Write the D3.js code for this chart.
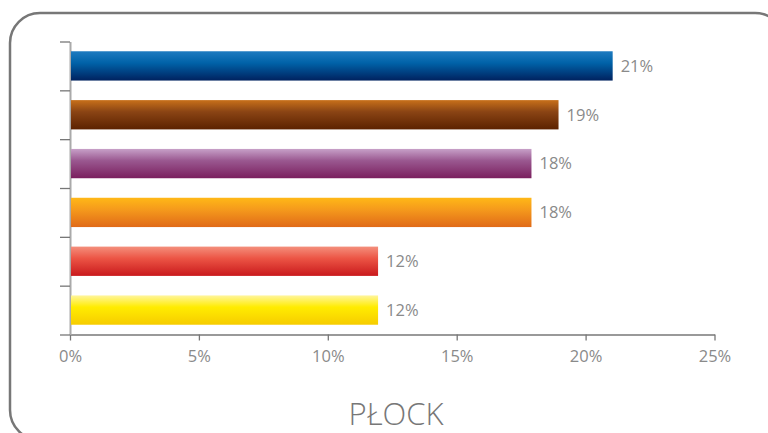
<!DOCTYPE html>
<html><head><meta charset="utf-8">
<script src="https://cdn.jsdelivr.net/npm/d3@7/dist/d3.min.js"></script>
<style>html,body{margin:0;padding:0;background:#fff;}svg{display:block;}</style>
</head><body>
<svg id="c" width="768" height="433"></svg>
<script>
const categories = ["A","B","C","D","E","F"];
const values = [21.05, 18.95, 17.9, 17.9, 11.95, 11.95];
const labels = ["21%","19%","18%","18%","12%","12%"];
const xTicks = [0,5,10,15,20,25];
const title = "PŁOCK";
const gradients = [
  ["#1f7bc0","#0062a8","#00225f"],
  ["#c8701a","#8a4414","#5c2200"],
  ["#c7a0c8","#9a5890","#7a1f5e"],
  ["#ffb817","#f59a1c","#e06a18"],
  ["#f48f7c","#ec5545","#c9191c"],
  ["#fff59c","#ffec00","#f6cc00"]
];

const svg = d3.select("#c");
const font = "'Open Sans', 'Noto Sans', sans-serif";
svg.append("rect").attr("x",10).attr("y",13).attr("width",775).attr("height",427)
  .attr("rx",30).attr("fill","none").attr("stroke","#777").attr("stroke-width",2.5);

const defs = svg.append("defs");
gradients.forEach((g,i)=>{
  const lg = defs.append("linearGradient").attr("id","g"+i).attr("x1",0).attr("x2",0).attr("y1",0).attr("y2",1);
  lg.append("stop").attr("offset","0%").attr("stop-color",g[0]);
  lg.append("stop").attr("offset","40%").attr("stop-color",g[1]);
  lg.append("stop").attr("offset","100%").attr("stop-color",g[2]);
});

const x = d3.scaleLinear().domain([0,25]).range([70,714.5]);
const y = d3.scaleBand().domain(categories).range([41.5,334.5]).paddingInner(0.4).paddingOuter(0.2);

const gx = svg.append("g").attr("transform","translate(0,334.5)")
  .call(d3.axisBottom(x).tickValues(xTicks).tickFormat(d=>d+"%").tickSize(6).tickSizeOuter(0).tickPadding(10));
gx.select(".domain").attr("stroke","#777").attr("stroke-width",1.3);
gx.selectAll(".tick line").attr("stroke","#777").attr("stroke-width",1.3);
gx.selectAll(".tick text").attr("fill","#8a8a8a").attr("font-size",16.5).attr("font-family",font);

const yb = d3.scaleLinear().domain([0,6]).range([41.5,334.5]);
const gy = svg.append("g").attr("transform","translate(70,0)")
  .call(d3.axisLeft(yb).ticks(6).tickFormat("").tickSize(10).tickSizeOuter(0));
gy.select(".domain").attr("stroke","#aaa").attr("stroke-width",2);
gy.selectAll(".tick line").attr("stroke","#777").attr("stroke-width",1.3);

svg.selectAll("rect.bar").data(values).join("rect").attr("class","bar")
  .attr("x",x(0)+1).attr("y",(d,i)=>y(categories[i]))
  .attr("width",d=>x(d)-x(0)-1).attr("height",y.bandwidth())
  .attr("fill",(d,i)=>`url(#g${i})`);

svg.selectAll("text.val").data(values).join("text").attr("class","val")
  .attr("x",d=>x(d)+8).attr("y",(d,i)=>y(categories[i])+y.bandwidth()/2)
  .attr("dy","0.35em").attr("fill","#8a8a8a").attr("font-size",16.5).attr("font-family",font)
  .text((d,i)=>labels[i]);

svg.append("text").attr("x",396).attr("y",425).attr("text-anchor","middle")
  .attr("fill","#777").attr("font-size",31).attr("font-family",font).attr("font-weight",300)
  .text(title);
</script>
</body></html>
